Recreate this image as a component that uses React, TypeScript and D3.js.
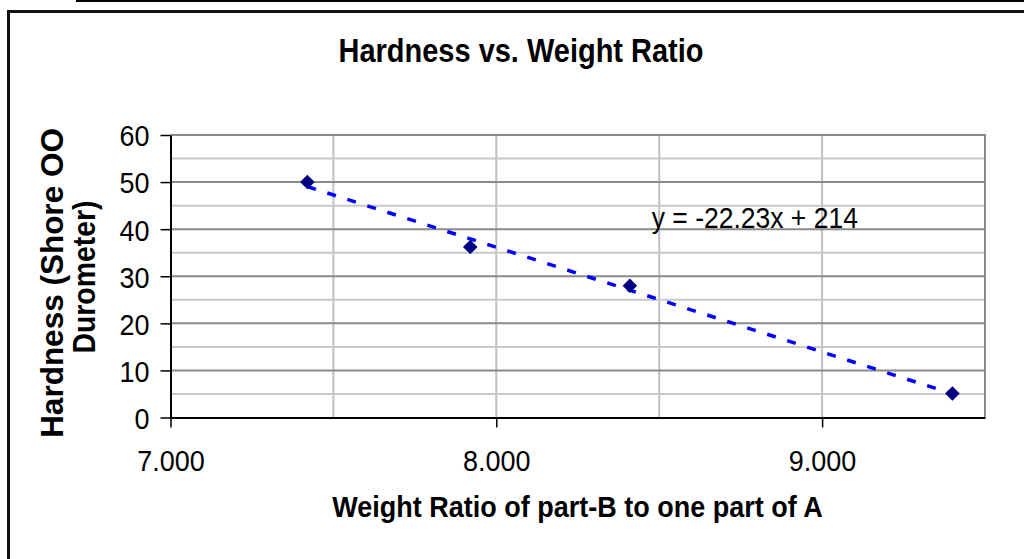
import { useEffect, useRef } from 'react';
import * as d3 from 'd3';

// values
const ratios = [7.42, 7.92, 8.41, 9.40];
const hardness = [50, 36.2, 28.0, 5.1];
const trendSlope = -22.23;
const trendIntercept = 214;
const xTicks = [7, 8, 9];
const xGrid = [7.5, 8, 8.5, 9];
const yTicks = [0, 10, 20, 30, 40, 50, 60];
const yMinor = [5, 15, 25, 35, 45, 55];

const FONT = '"Liberation Sans", Arial, sans-serif';
const SY = 1.12; // the source image is a bit taller than wide

export default function App() {
  const ref = useRef<SVGSVGElement>(null);

  useEffect(() => {
    const width = 1024;
    const height = 559;
    const plot = { left: 170.5, right: 985, top: 135, bottom: 417.5 };

    const svg = d3.select(ref.current);
    svg.selectAll('*').remove();

    svg.append('rect').attr('width', width).attr('height', height).attr('fill', '#fff');

    // stray rule at the very top and the outer chart frame
    svg.append('line').attr('x1', 76).attr('x2', width).attr('y1', 1).attr('y2', 1)
      .attr('stroke', '#000').attr('stroke-width', 2);
    svg.append('rect').attr('x', 8.5).attr('y', 11.5).attr('width', 1100).attr('height', 700)
      .attr('fill', 'none').attr('stroke', '#111').attr('stroke-width', 3);

    const xScale = d3.scaleLinear().domain([7, 9.5]).range([plot.left, plot.right]);
    const yScale = d3.scaleLinear().domain([0, 60]).range([plot.bottom, plot.top]);

    const g = svg.append('g');

    // gridlines
    g.selectAll('.xgrid').data(xGrid).join('line').attr('class', 'xgrid')
      .attr('x1', d => xScale(d)).attr('x2', d => xScale(d))
      .attr('y1', plot.top).attr('y2', plot.bottom)
      .attr('stroke', '#c0c0c0').attr('stroke-width', 2);
    g.selectAll('.yminor').data(yMinor).join('line').attr('class', 'yminor')
      .attr('x1', plot.left).attr('x2', plot.right)
      .attr('y1', d => yScale(d)).attr('y2', d => yScale(d))
      .attr('stroke', '#c8c8c8').attr('stroke-width', 2);
    g.selectAll('.ymajor').data(yTicks.filter(d => d > 0)).join('line').attr('class', 'ymajor')
      .attr('x1', plot.left).attr('x2', plot.right)
      .attr('y1', d => yScale(d)).attr('y2', d => yScale(d))
      .attr('stroke', '#8a8a8a').attr('stroke-width', 2);
    g.append('line').attr('x1', plot.right).attr('x2', plot.right)
      .attr('y1', plot.top - 1).attr('y2', plot.bottom)
      .attr('stroke', '#8a8a8a').attr('stroke-width', 2);

    // axes
    const xAxis = d3.axisBottom(xScale).tickValues(xTicks).tickSize(10).tickSizeOuter(0)
      .tickFormat(d3.format('.3f'));
    const yAxis = d3.axisLeft(yScale).tickValues(yTicks).tickSize(10).tickSizeOuter(0);

    const gx = g.append('g').attr('transform', `translate(0, ${plot.bottom})`).call(xAxis);
    const gy = g.append('g').attr('transform', `translate(${plot.left}, 0)`).call(yAxis);
    [gx, gy].forEach(ax => {
      ax.select('.domain').attr('stroke', '#000').attr('stroke-width', 2);
      ax.selectAll('.tick line').attr('stroke', '#000').attr('stroke-width', 1.5);
      ax.selectAll('.tick text').attr('fill', '#000').attr('font-family', FONT).attr('font-size', 27)
        .attr('transform', `scale(1, ${SY})`);
    });
    gx.selectAll('.tick text').attr('dy', null).attr('y', 54 / SY);
    gy.selectAll('.tick text').attr('x', -21).attr('dy', '0.36em');

    // trendline
    const tx = [d3.min(ratios)!, d3.max(ratios)!];
    g.append('line')
      .attr('x1', xScale(tx[0])).attr('y1', yScale(trendSlope * tx[0] + trendIntercept))
      .attr('x2', xScale(tx[1])).attr('y2', yScale(trendSlope * tx[1] + trendIntercept))
      .attr('stroke', '#0000ff').attr('stroke-width', 3.5).attr('stroke-dasharray', '9,12');

    // markers
    const diamond = d3.symbol().type(d3.symbolDiamond2).size(135);
    g.selectAll('.pt').data(ratios).join('path').attr('class', 'pt')
      .attr('d', diamond)
      .attr('transform', (d, i) => `translate(${xScale(d)}, ${yScale(hardness[i])})`)
      .attr('fill', '#000080');

    const stretched = (x: number, y: number) => `translate(${x}, ${y}) scale(1, ${SY})`;

    // equation label
    g.append('text').attr('transform', stretched(xScale(8.477), yScale(40.3)))
      .attr('font-family', FONT).attr('font-size', 26.5).attr('fill', '#000')
      .text(`y = ${trendSlope}x + ${trendIntercept}`);

    // titles
    svg.append('text').attr('transform', stretched(521, 62)).attr('text-anchor', 'middle')
      .attr('font-family', FONT).attr('font-weight', 'bold').attr('font-size', 29)
      .text('Hardness vs. Weight Ratio');
    svg.append('text').attr('transform', stretched(577.5, 517)).attr('text-anchor', 'middle')
      .attr('font-family', FONT).attr('font-weight', 'bold').attr('font-size', 27)
      .text('Weight Ratio of part-B to one part of A');

    svg.append('text').attr('transform', `translate(63, 283) rotate(-90) scale(${SY * 0.97}, 1.05)`)
      .attr('text-anchor', 'middle').attr('font-family', FONT).attr('font-weight', 'bold')
      .attr('font-size', 29)
      .text('Hardness (Shore OO');
    svg.append('text').attr('transform', `translate(95, 277) rotate(-90) scale(0.98, 1.05)`)
      .attr('text-anchor', 'middle').attr('font-family', FONT).attr('font-weight', 'bold')
      .attr('font-size', 29)
      .text('Durometer)');
  }, []);

  return (
    <svg ref={ref} width={1024} height={559}
      style={{ position: 'absolute', left: 0, top: 0, display: 'block' }} />
  );
}
